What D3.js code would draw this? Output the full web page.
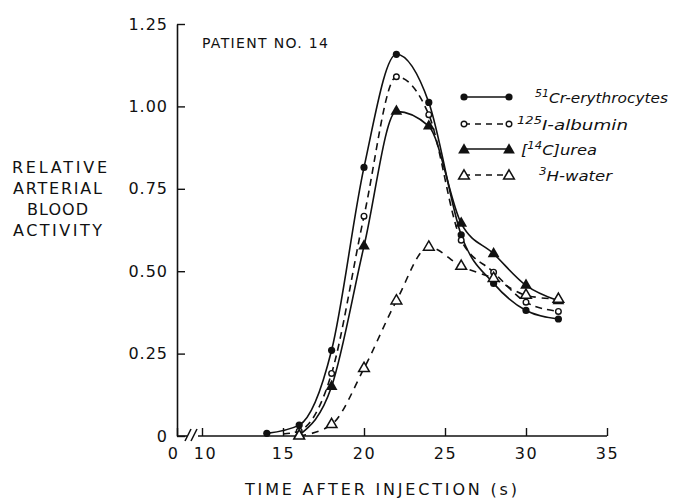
<!DOCTYPE html>
<html>
<head>
<meta charset="utf-8">
<script src="https://cdn.jsdelivr.net/npm/d3@7"></script>
<style>
  html, body { margin: 0; padding: 0; background: #fff; }
  svg { display: block; }
  text { font-family: "DejaVu Sans", sans-serif; fill: #111; }
</style>
</head>
<body>
<svg id="chart" width="673" height="499"></svg>
<script>
// ---- data ----
const crTime  = [14, 16, 18, 20, 22, 24, 26, 28, 30, 32];
const crValue = [0.008, 0.033, 0.26, 0.815, 1.158, 1.012, 0.61, 0.463, 0.381, 0.355];

const albTime  = [15, 16, 18, 20, 22, 24, 26, 28, 30, 32];
const albValue = [0.006, 0.015, 0.19, 0.667, 1.090, 0.975, 0.594, 0.497, 0.406, 0.378];

const ureaTime  = [16, 18, 20, 22, 24, 26, 28, 30, 32];
const ureaValue = [0.003, 0.15, 0.576, 0.985, 0.94, 0.645, 0.553, 0.457, 0.41];

const waterTime  = [16, 18, 20, 22, 24, 26, 28, 30, 32];
const waterValue = [0.0, 0.035, 0.205, 0.41, 0.573, 0.515, 0.478, 0.427, 0.415];

const xTickValues = [0, 10, 15, 20, 25, 30, 35];
const yTickValues = [0, 0.25, 0.5, 0.75, 1.0, 1.25];
const yTickLabels = ["0", "0.25", "0.50", "0.75", "1.00", "1.25"];

const seriesNames = ["Cr-erythrocytes", "I-albumin", "]urea", "H-water"];

// ---- layout ----
const svg = d3.select("#chart");
const x = d3.scaleLinear().domain([0, 10, 35]).range([177, 202, 607]);
const y = d3.scaleLinear().domain([0, 1.25]).range([436, 24]);

const series = [
  { t: crTime,    v: crValue,    dash: null,  marker: "fcircle" },
  { t: albTime,   v: albValue,   dash: "7,5", marker: "ocircle" },
  { t: ureaTime,  v: ureaValue,  dash: null,  marker: "ftri" },
  { t: waterTime, v: waterValue, dash: "7,6", marker: "otri" }
];

// ---- axes ----
const yAxis = d3.axisLeft(y)
  .tickValues(yTickValues)
  .tickFormat((d, i) => yTickLabels[i])
  .tickSizeInner(-8).tickSizeOuter(0).tickPadding(9);
const gy = svg.append("g").attr("transform", "translate(177,0)").call(yAxis);
gy.select(".domain").attr("stroke", "#111").attr("stroke-width", 1.6);
gy.selectAll(".tick line").attr("stroke", "#111").attr("stroke-width", 1.4);
gy.selectAll(".tick text")
  .style("font-size", "16px").style("letter-spacing", "1px")
  .style("font-family", "DejaVu Sans, sans-serif").attr("fill", "#111");

const xAxis = d3.axisBottom(x)
  .tickValues(xTickValues)
  .tickFormat(d3.format("d"))
  .tickSizeInner(-8).tickSizeOuter(0).tickPadding(12);
const gx = svg.append("g").attr("transform", "translate(0,436)").call(xAxis);
gx.select(".domain").remove();
gx.selectAll(".tick line").attr("stroke", "#111").attr("stroke-width", 1.4);
gx.selectAll(".tick text")
  .style("font-size", "16px").style("letter-spacing", "1.5px")
  .style("font-family", "DejaVu Sans, sans-serif").attr("fill", "#111");
gx.selectAll(".tick").filter(d => d === 0).select("text").attr("x", -4);
gx.selectAll(".tick").filter(d => d === 10).select("text").attr("x", 3);

// broken x-axis line
const axisLine = svg.append("g").attr("stroke", "#111").attr("stroke-width", 1.6).attr("fill", "none");
axisLine.append("line").attr("x1", x(0)).attr("x2", x(0) + 10).attr("y1", y(0)).attr("y2", y(0));
axisLine.append("line").attr("x1", x(10) - 4).attr("x2", x(35)).attr("y1", y(0)).attr("y2", y(0));
axisLine.append("line").attr("x1", x(0) + 8).attr("y1", y(0) + 5).attr("x2", x(0) + 14).attr("y2", y(0) - 7);
axisLine.append("line").attr("x1", x(0) + 14).attr("y1", y(0) + 5).attr("x2", x(0) + 20).attr("y2", y(0) - 7);

// ---- titles ----
svg.append("text").attr("x", 202).attr("y", 48)
  .attr("textLength", 126).attr("lengthAdjust", "spacing")
  .style("font-size", "14px").text("PATIENT NO. 14");

svg.append("text").attr("x", 245).attr("y", 495)
  .attr("textLength", 272).attr("lengthAdjust", "spacing")
  .style("font-size", "16px").text("TIME AFTER INJECTION (s)");

const yTitle = [["RELATIVE", 12, 95, 173], ["ARTERIAL", 13, 89, 194], ["BLOOD", 27, 61, 215], ["ACTIVITY", 13, 89, 236]];
yTitle.forEach(([s, x0, w, yy]) => {
  svg.append("text").attr("x", x0).attr("y", yy)
    .attr("textLength", w).attr("lengthAdjust", "spacing")
    .style("font-size", "16px").text(s);
});

// ---- curves ----
const line = d3.line().x(d => x(d[0])).y(d => y(d[1])).curve(d3.curveMonotoneX);
const plot = svg.append("g");
series.forEach(s => {
  const pts = s.t.map((t, i) => [t, s.v[i]]);
  plot.append("path").datum(pts).attr("d", line)
    .attr("fill", "none").attr("stroke", "#111").attr("stroke-width", 1.6)
    .attr("stroke-dasharray", s.dash);
});

function drawMarker(g, type, cx, cy) {
  if (type === "fcircle") {
    g.append("circle").attr("cx", cx).attr("cy", cy).attr("r", 3.6).attr("fill", "#111");
  } else if (type === "ocircle") {
    g.append("circle").attr("cx", cx).attr("cy", cy).attr("r", 2.8)
      .attr("fill", "#fff").attr("stroke", "#111").attr("stroke-width", 1.4);
  } else if (type === "ftri") {
    g.append("path").attr("d", d3.symbol(d3.symbolTriangle, 60)())
      .attr("transform", `translate(${cx},${cy})`).attr("fill", "#111");
  } else {
    g.append("path").attr("d", d3.symbol(d3.symbolTriangle, 50)())
      .attr("transform", `translate(${cx},${cy})`)
      .attr("fill", "#fff").attr("stroke", "#111").attr("stroke-width", 1.5);
  }
}
series.forEach(s => {
  s.t.forEach((t, i) => {
    if (s.marker === "ocircle" && t === 15) return;
    drawMarker(plot, s.marker, x(t), y(s.v[i]));
  });
});

// ---- legend ----
const legY = [97, 124, 149, 175];
const legend = svg.append("g");
series.forEach((s, i) => {
  const x1 = 464, x2 = 509;
  legend.append("line").attr("x1", x1).attr("x2", x2).attr("y1", legY[i]).attr("y2", legY[i])
    .attr("stroke", "#111").attr("stroke-width", 1.6).attr("stroke-dasharray", s.dash ? "6,5" : null);
  drawMarker(legend, s.marker, x1, legY[i] + (s.marker.endsWith("tri") ? 1 : 0));
  drawMarker(legend, s.marker, x2, legY[i] + (s.marker.endsWith("tri") ? 1 : 0));
});
function legText(xx, yy, len, parts) {
  const t = legend.append("text").attr("x", xx).attr("y", yy)
    .attr("textLength", len).attr("lengthAdjust", "spacingAndGlyphs")
    .style("font-size", "14px").style("font-style", "italic");
  parts.forEach(p => {
    const ts = t.append("tspan").text(p.s);
    if (p.sup) ts.attr("dy", -6).style("font-size", "10px");
    if (p.down) ts.attr("dy", 6);
  });
}
legText(535, legY[0] + 6, 133, [{ s: "51", sup: true }, { s: seriesNames[0], down: true }]);
legText(517, legY[1] + 6, 111, [{ s: "125", sup: true }, { s: seriesNames[1], down: true }]);
legText(521, legY[2] + 6, 76, [{ s: "[" }, { s: "14", sup: true }, { s: "C", down: true }, { s: seriesNames[2] }]);
legText(539, legY[3] + 6, 73, [{ s: "3", sup: true }, { s: seriesNames[3], down: true }]);
</script>
</body>
</html>
